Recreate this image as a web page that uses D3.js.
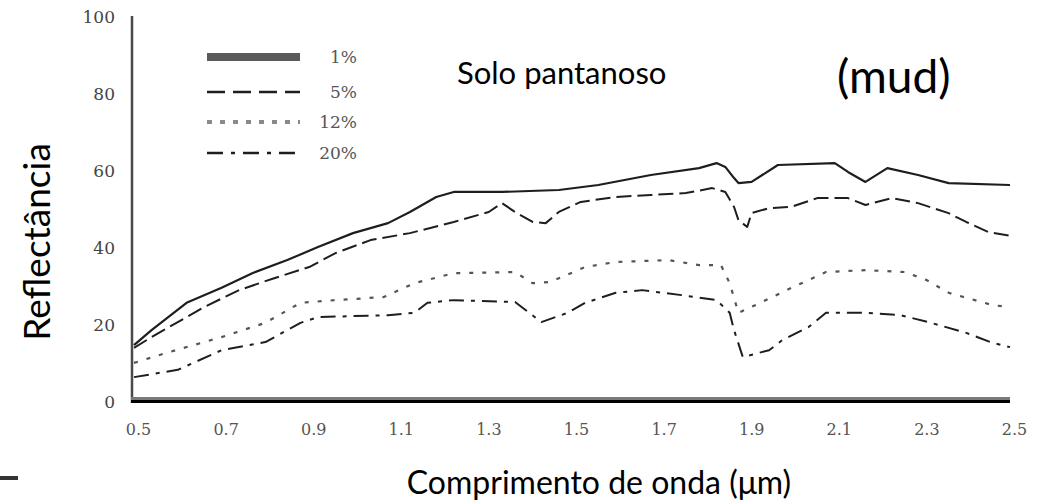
<!DOCTYPE html>
<html>
<head>
<meta charset="utf-8">
<script src="https://cdn.jsdelivr.net/npm/d3@7"></script>
<style>
  html, body { margin: 0; padding: 0; background: #fff; }
  svg { display: block; }
</style>
</head>
<body>
<svg id="chart" width="1044" height="503"></svg>
<script>
// Wavelength (µm) and reflectance (%) for each moisture level
const wl1  = [0.50,0.54,0.62,0.70,0.77,0.85,0.92,1.00,1.08,1.13,1.19,1.23,1.34,1.47,1.56,1.68,1.79,1.83,1.85,1.87,1.88,1.91,1.97,2.10,2.13,2.17,2.22,2.29,2.36,2.50];
const r1   = [14.5,18.4,25.5,29.4,33.2,36.6,40.0,43.6,46.2,49.1,53.0,54.3,54.3,54.8,56.1,58.7,60.5,61.8,60.8,57.9,56.6,56.9,61.3,61.8,59.5,56.9,60.5,58.7,56.6,56.1];

const wl5  = [0.50,0.54,0.66,0.74,0.82,0.90,0.96,1.04,1.13,1.23,1.31,1.34,1.37,1.41,1.44,1.47,1.52,1.60,1.68,1.76,1.82,1.85,1.87,1.88,1.90,1.91,1.95,2.00,2.06,2.13,2.17,2.23,2.29,2.36,2.40,2.45,2.50];
const r5   = [13.8,16.6,24.4,28.8,31.9,34.8,38.4,41.8,43.6,46.5,49.1,51.4,49.1,46.5,46.2,49.1,51.7,53.0,53.5,54.0,55.3,54.3,50.4,47.0,45.2,48.8,50.1,50.4,52.7,52.7,50.9,52.7,51.4,48.8,46.5,43.9,42.9];

const wl12 = [0.50,0.58,0.70,0.80,0.88,0.96,1.07,1.14,1.23,1.37,1.41,1.45,1.53,1.60,1.72,1.79,1.84,1.86,1.88,1.93,1.99,2.08,2.17,2.26,2.31,2.36,2.46,2.50];
const r12  = [9.9,12.7,16.6,20.3,25.5,26.2,27.0,30.6,33.2,33.5,30.6,30.9,34.8,36.1,36.6,35.3,35.3,30.6,22.9,25.5,28.8,33.5,34.0,33.5,31.4,28.1,24.9,24.4];

const wl20 = [0.50,0.60,0.70,0.80,0.88,0.92,1.08,1.14,1.17,1.23,1.37,1.43,1.49,1.53,1.60,1.66,1.75,1.83,1.86,1.87,1.89,1.95,1.98,2.04,2.08,2.17,2.25,2.32,2.40,2.46,2.50];
const r20  = [6.2,8.1,13.2,15.3,20.3,21.8,22.3,22.9,25.5,26.2,25.7,20.5,22.9,25.5,28.1,28.8,27.5,26.2,22.9,18.4,11.4,13.2,15.8,19.2,22.9,22.9,22.3,20.3,17.7,15.1,14.0];

const seriesNames = ["1%", "5%", "12%", "20%"];
const xTicks = [0.5, 0.7, 0.9, 1.1, 1.3, 1.5, 1.7, 1.9, 2.1, 2.3, 2.5];
const yTicks = [0, 20, 40, 60, 80, 100];

const svg = d3.select("#chart");

const x = d3.scaleLinear().domain([0.5, 2.5]).range([134, 1010]);
const y = d3.scaleLinear().domain([0, 100]).range([401, 16]);

// Stroke style for each series (plot line and legend sample)
const styles = [
  { dash: null,       color: "#1e1e1e", width: 2.2, legDash: null,       legWidth: 8,   legColor: "#5a5a5a" },
  { dash: "15,6",     color: "#1e1e1e", width: 2,   legDash: "18,8",     legWidth: 2.5, legColor: "#1e1e1e" },
  { dash: "4,9",      color: "#555",    width: 2.2, legDash: "5,8",      legWidth: 4,   legColor: "#8a8a8a" },
  { dash: "15,7,4,7", color: "#1e1e1e", width: 2,   legDash: "16,8,4,8", legWidth: 2.5, legColor: "#1e1e1e" }
];

const series = [
  { wl: wl1,  r: r1 },
  { wl: wl5,  r: r5 },
  { wl: wl12, r: r12 },
  { wl: wl20, r: r20 }
];

const line = d3.line().x(d => x(d[0])).y(d => y(d[1]));

series.forEach((s, i) => {
  const pts = s.wl.map((w, j) => [w, s.r[j]]);
  svg.append("path")
    .datum(pts)
    .attr("fill", "none")
    .attr("stroke", styles[i].color)
    .attr("stroke-width", styles[i].width)
    .attr("stroke-dasharray", styles[i].dash)
    .attr("stroke-linejoin", "round")
    .attr("d", line);
});

const serif = "'DejaVu Serif', 'Liberation Serif', serif";

// Axes
const xAxis = d3.axisBottom(x).tickValues(xTicks).tickSize(0).tickPadding(0)
  .tickFormat(d3.format(".1f"));
const gx = svg.append("g").attr("transform", "translate(0,401)").call(xAxis);
gx.select(".domain").remove();
gx.selectAll("text")
  .attr("y", 34)
  .attr("dy", 0)
  .attr("dx", 4)
  .attr("font-family", serif)
  .attr("font-size", 16)
  .attr("fill", "#555");

const yAxis = d3.axisLeft(y).tickValues(yTicks).tickSize(0).tickPadding(0);
const gy = svg.append("g").attr("transform", "translate(115,0)").call(yAxis);
gy.select(".domain").remove();
gy.selectAll("text")
  .attr("dy", "0.36em")
  .attr("font-family", serif)
  .attr("font-size", 17)
  .attr("fill", "#444");

// Frame lines: left axis and the two-tone bottom axis
svg.append("line").attr("x1", 132).attr("x2", 132).attr("y1", y(100)).attr("y2", 403)
  .attr("stroke", "#4a4a4a").attr("stroke-width", 2.5);
svg.append("line").attr("x1", 131).attr("x2", x(2.5)).attr("y1", 398.5).attr("y2", 398.5)
  .attr("stroke", "#7a7a7a").attr("stroke-width", 3);
svg.append("line").attr("x1", 131).attr("x2", x(2.5)).attr("y1", 401.5).attr("y2", 401.5)
  .attr("stroke", "#000").attr("stroke-width", 3);

// Legend
const legendY = [57, 92, 122, 153];
seriesNames.forEach((name, i) => {
  svg.append("line")
    .attr("x1", 207).attr("x2", 300)
    .attr("y1", legendY[i]).attr("y2", legendY[i])
    .attr("stroke", styles[i].legColor)
    .attr("stroke-width", styles[i].legWidth)
    .attr("stroke-dasharray", styles[i].legDash);
  svg.append("text")
    .attr("x", 357).attr("y", legendY[i] + 6)
    .attr("text-anchor", "end")
    .attr("font-family", serif)
    .attr("font-size", 17)
    .attr("fill", "#555")
    .text(name);
});

// Titles
const sans = "Lato, 'Open Sans', sans-serif";
svg.append("text").attr("x", 457).attr("y", 84)
  .attr("font-family", sans).attr("font-size", 31).attr("fill", "#000")
  .text("Solo pantanoso");
svg.append("text").attr("x", 837).attr("y", 93)
  .attr("font-family", sans).attr("font-size", 46).attr("fill", "#000")
  .text("(mud)");
svg.append("text")
  .attr("transform", "translate(50,242) rotate(-90)")
  .attr("text-anchor", "middle")
  .attr("font-family", sans).attr("font-size", 37).attr("fill", "#000")
  .text("Reflectância");
svg.append("text").attr("x", 599).attr("y", 494)
  .attr("text-anchor", "middle")
  .attr("font-family", sans).attr("font-size", 32).attr("fill", "#000")
  .text("Comprimento de onda (μm)");

// Small mark at the lower-left edge
svg.append("rect").attr("x", 0).attr("y", 476).attr("width", 18).attr("height", 4).attr("fill", "#333");
</script>
</body>
</html>
